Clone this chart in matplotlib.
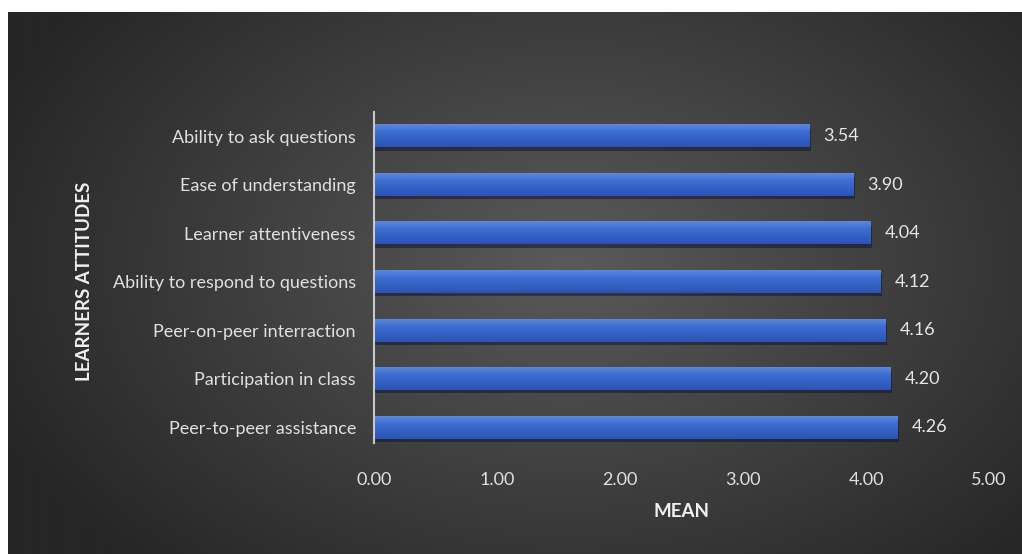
import numpy as np
import matplotlib.pyplot as plt

categories = ["Peer-to-peer assistance", "Participation in class", "Peer-on-peer interraction",
              "Ability to respond to questions", "Learner attentiveness", "Ease of understanding",
              "Ability to ask questions"]
means = [4.26, 4.20, 4.16, 4.12, 4.04, 3.90, 3.54]
xticks = [0, 1, 2, 3, 4, 5]

plt.rcParams['font.family'] = ['Lato', 'DejaVu Sans']

fig = plt.figure(figsize=(10.22, 5.54), dpi=100)
fig.patch.set_facecolor("white")

# dark radial gradient panel
bg = fig.add_axes([8/1022, 0, 1 - 8/1022, 542/554])
bg.set_axis_off()
yy, xx = np.mgrid[0:542, 0:1014]
cx, cy = 560, 250
d = np.sqrt(((xx - cx) / 620.0) ** 2 + ((yy - cy) / 420.0) ** 2)
shade = 90 - 52 * np.clip(d, 0, 1)
img = np.dstack([shade, shade, shade]) / 255.0
bg.imshow(img, aspect="auto", extent=[0, 1, 0, 1], origin="upper")
bg.set_xlim(0, 1)
bg.set_ylim(0, 1)

ax = fig.add_axes([374/1022, 111/554, (989-374)/1022, (443-112)/554])
ax.patch.set_alpha(0)
y = np.arange(len(categories))
h = 0.46

# vertical gradient for the bars: light top, darker bottom
top = np.array([92, 136, 222]) / 255.0
mid = np.array([60, 108, 210]) / 255.0
bot = np.array([44, 84, 180]) / 255.0
t = np.linspace(0, 1, 40)[:, None]
grad = np.where(t < 0.35, top + (mid - top) * (t / 0.35), mid + (bot - mid) * ((t - 0.35) / 0.65))
grad = grad[:, None, :]

# shadow under the bars
ax.barh(y - 0.07, means, height=h, color="#10182a", alpha=0.55, left=0.01, zorder=1)
for yi, m in zip(y, means):
    ax.imshow(grad, aspect="auto", extent=[0, m, yi - h / 2, yi + h / 2],
              origin="upper", interpolation="bilinear", zorder=2)
    ax.annotate(f"{m:.2f}", (m, yi), xytext=(10, 0), textcoords="offset points",
                va="center", ha="left", color="#e6e6e6", fontsize=13)

ax.set_xlim(0, 5)
ax.set_ylim(-0.32, 6.5)
ax.set_aspect("auto")
ax.set_xticks(xticks)
ax.set_xticklabels([f"{t:.2f}" for t in xticks])
ax.set_yticks(y)
ax.set_yticklabels(categories)
ax.tick_params(axis="x", length=0, pad=21, colors="#e0e0e0", labelsize=13)
ax.tick_params(axis="y", length=0, pad=13, colors="#e0e0e0", labelsize=13)
for s in ["top", "right", "bottom"]:
    ax.spines[s].set_visible(False)
ax.spines["left"].set_color("#c8c8c8")
ax.spines["left"].set_linewidth(1.5)
ax.spines["left"].set_zorder(3)
ax.set_xlabel("MEAN", color="#f0f0f0", fontsize=13.5, fontweight="bold", labelpad=11)
fig.text(85/1022, 1 - 281/554, "LEARNERS ATTITUDES", rotation=90, color="#f0f0f0",
         fontsize=13.5, fontweight="bold", ha="center", va="center")

fig.savefig("out.png", dpi=100, facecolor=fig.get_facecolor())
